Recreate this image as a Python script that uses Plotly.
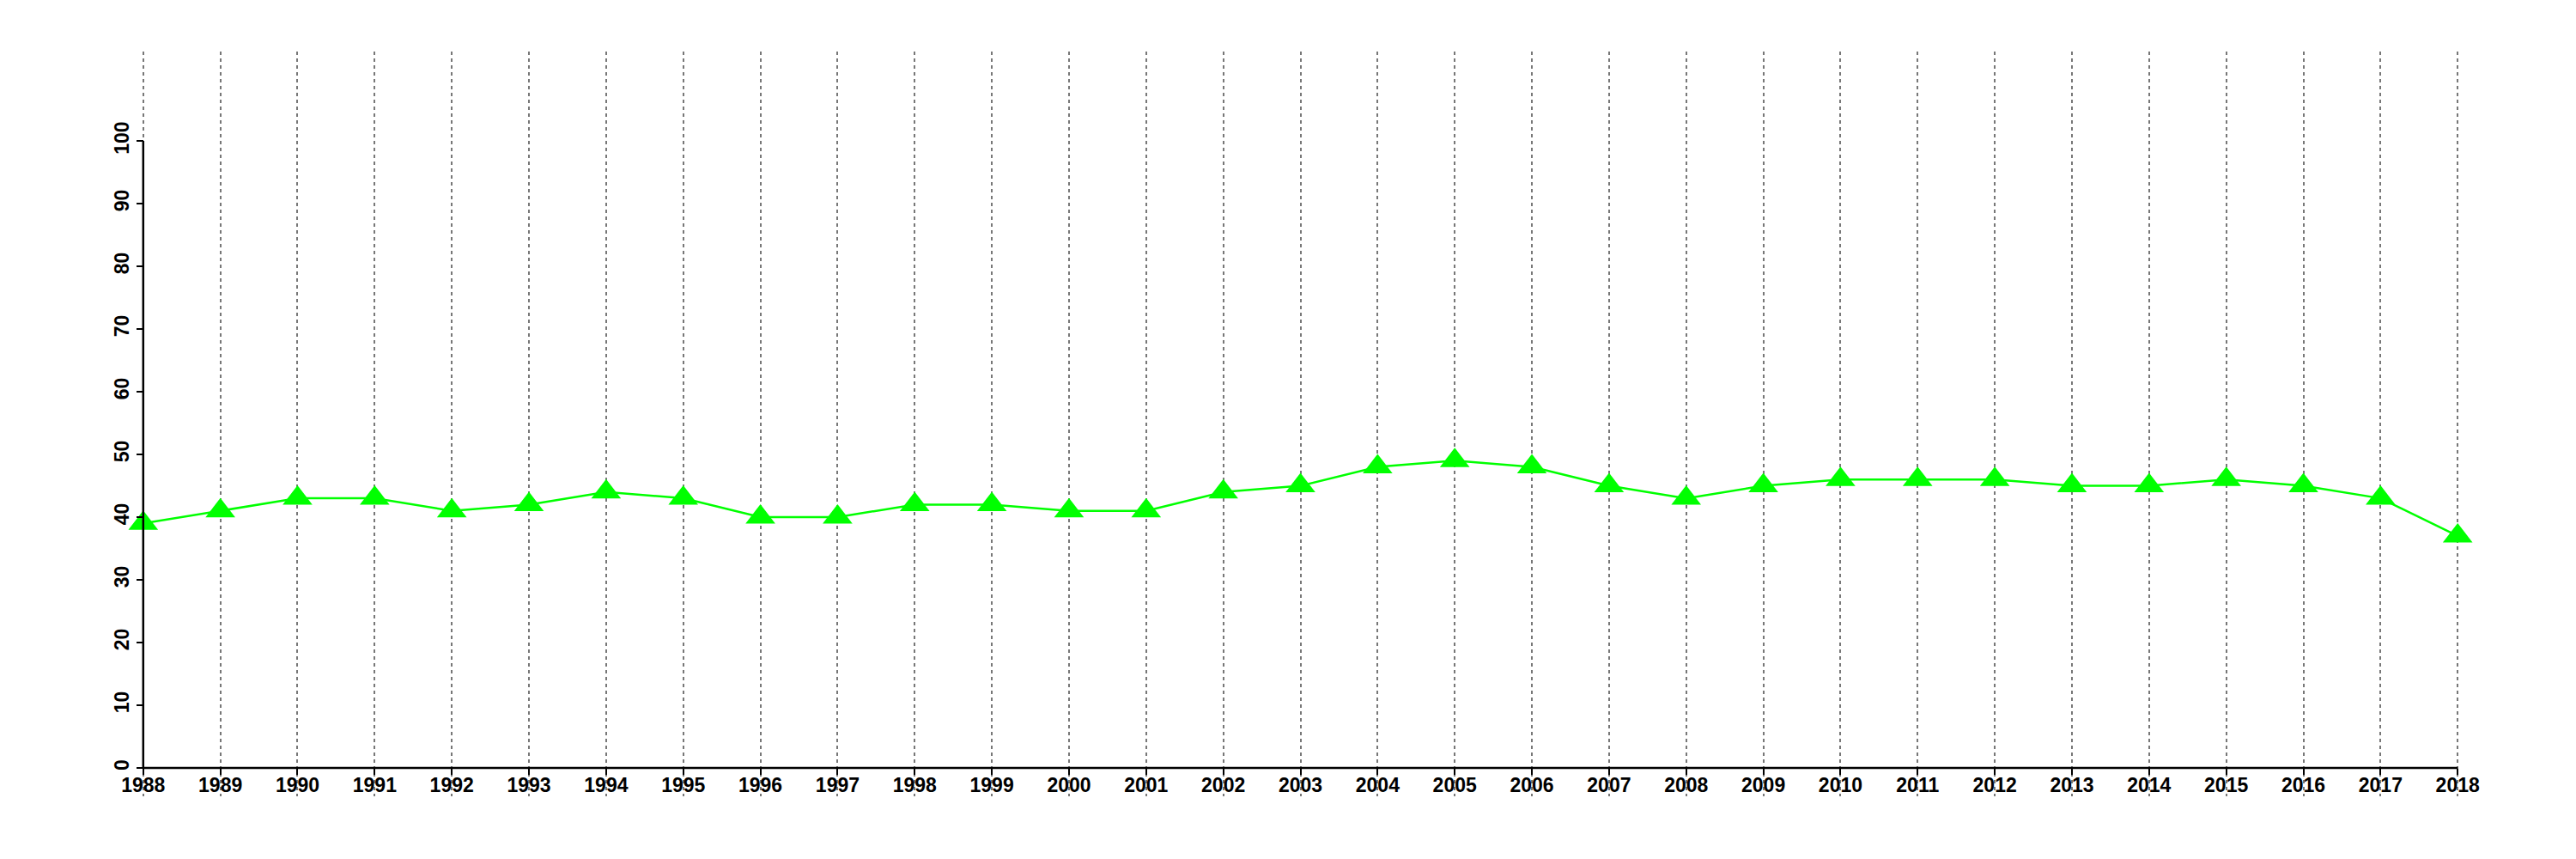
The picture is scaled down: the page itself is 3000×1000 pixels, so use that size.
import plotly.graph_objects as go

years = list(range(1988, 2019))
values = [39, 41, 43, 43, 41, 42, 44, 43, 40, 40, 42, 42, 41, 41, 44, 45, 48, 49,
          48, 45, 43, 45, 46, 46, 46, 45, 45, 46, 45, 43, 37]
y_ticks = list(range(0, 101, 10))

GREEN = "#00FF00"
FONT = dict(family="Liberation Sans, Arial, sans-serif", size=23, color="black", weight="bold")

# page body has an 8px default margin; compensate so the plot lands where the reference has it
W, H = 3000, 1000
L, R, T, B = 157, 144, 52, 81
YMIN, YMAX = -4.52, 114.25
XMIN, XMAX = 1987.98, 2018.02

fig = go.Figure()
fig.add_trace(go.Scatter(
    x=years, y=values, mode="lines+markers",
    line=dict(color=GREEN, width=2.5),
    marker=dict(symbol="triangle-up", size=30, color=GREEN, line=dict(width=0)),
    cliponaxis=False, showlegend=False,
))

# axis lines limited to data extent
fig.add_shape(type="line", xref="x", yref="y", x0=years[0], x1=years[0], y0=0, y1=100,
              line=dict(color="black", width=2.5))
fig.add_shape(type="line", xref="x", yref="y", x0=years[0], x1=years[-1], y0=0, y1=0,
              line=dict(color="black", width=2.5))

x_pos_frac = (0 - YMIN) / (YMAX - YMIN)
y_pos_frac = (years[0] - XMIN) / (XMAX - XMIN)

fig.update_layout(
    width=W, height=H,
    margin=dict(l=L, r=R, t=T, b=B, pad=0, autoexpand=False),
    plot_bgcolor="white", paper_bgcolor="white",
    xaxis=dict(
        range=[XMIN, XMAX], tickmode="array", tickvals=years,
        ticktext=[str(y) for y in years],
        showgrid=True, gridcolor="#777777", gridwidth=2, griddash="4px,4px",
        showline=False, zeroline=False, automargin=False,
        ticks="outside", ticklen=7, tickwidth=2, tickcolor="black",
        tickfont=FONT, anchor="free", position=x_pos_frac,
        ticklabelstandoff=-8,
    ),
    yaxis=dict(
        range=[YMIN, YMAX], tickmode="array", tickvals=y_ticks,
        showgrid=False, zeroline=False, showline=False, automargin=False,
        ticks="outside", ticklen=8, tickwidth=2, tickcolor="black",
        tickfont=FONT, tickangle=-90, anchor="free", position=y_pos_frac,
    ),
)

fig.write_html("out.html")
